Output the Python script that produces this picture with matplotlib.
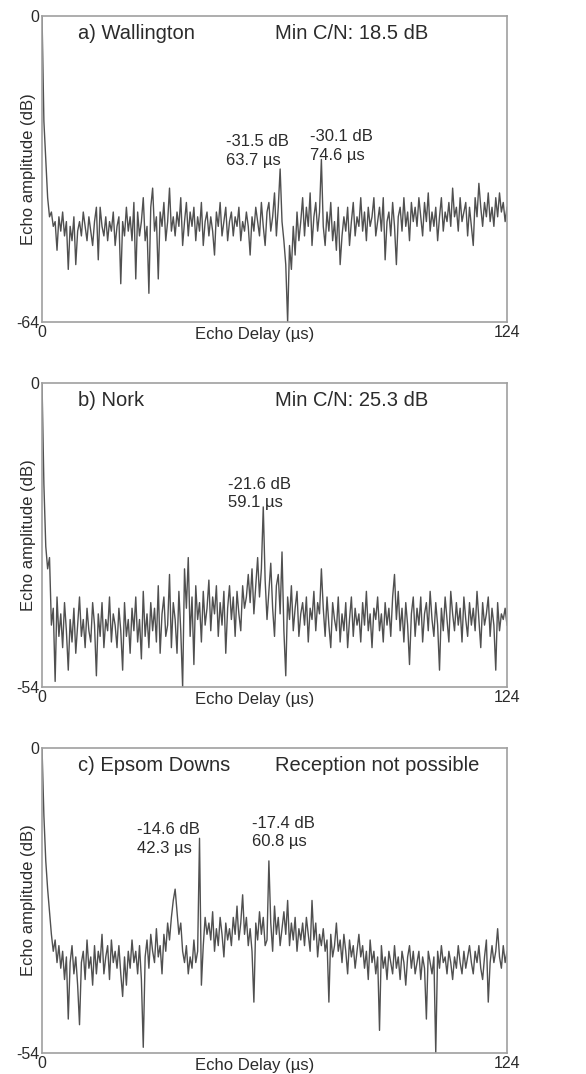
import matplotlib
matplotlib.use("Agg")
import matplotlib.pyplot as plt
import numpy as np

plt.rcParams["font.family"] = ["Liberation Sans", "DejaVu Sans"]
plt.rcParams["axes.unicode_minus"] = False

# echo delay sampled every 0.5 us, 0..124 us
step_us = 0.5
max_delay = 124

# a) Wallington, echo amplitude (dB)
wallington = [
    0, -22, -30, -38, -42, -41, -44, -43, -49, -42,
    -45, -41, -46, -43, -53, -44, -47, -42, -52, -45,
    -43, -46, -41, -44, -47, -42, -45, -48, -43, -40,
    -51, -40, -44, -46, -42, -47, -43, -45, -41, -48,
    -44, -42, -56, -43, -46, -40, -45, -42, -47, -39,
    -55, -41, -46, -43, -38, -47, -44, -58, -40, -36,
    -45, -42, -55, -41, -44, -39, -47, -43, -36, -45,
    -42, -46, -41, -44, -38, -48, -43, -39, -46, -41,
    -44, -40, -47, -42, -45, -39, -48, -43, -41, -46,
    -42, -45, -50, -41, -44, -39, -46, -43, -40, -47,
    -43, -41, -46, -42, -44, -40, -47, -43, -45, -41,
    -44, -50, -42, -45, -40, -43, -46, -39, -44, -48,
    -41, -39, -45, -42, -37, -46, -40, -32, -43, -47,
    -52, -64, -48, -53, -44, -50, -41, -47, -43, -38,
    -46, -40, -44, -37, -48, -42, -39, -45, -41, -30,
    -44, -48, -41, -45, -39, -47, -43, -49, -40, -52,
    -46, -42, -45, -40, -48, -43, -39, -46, -42, -44,
    -38, -45, -41, -47, -40, -44, -42, -38, -46, -43,
    -40, -45, -38, -51, -43, -41, -46, -39, -44, -52,
    -42, -40, -45, -38, -44, -41, -47, -39, -43, -40,
    -44, -38, -42, -46, -39, -43, -37, -45, -41, -44,
    -40, -47, -42, -38, -45, -41, -43, -39, -44, -36,
    -42, -40, -45, -38, -43, -41, -39, -46, -40, -44,
    -48, -38, -42, -35, -40, -44, -39, -42, -37, -43,
    -40, -44, -38, -42, -37, -41, -39, -43, -40,
]

# b) Nork
nork = [
    0, -18, -29, -33, -31, -43, -40, -53, -38, -45,
    -41, -47, -39, -44, -51, -42, -46, -40, -48, -43,
    -38, -45, -42, -47, -40, -44, -46, -39, -43, -52,
    -41, -45, -39, -47, -42, -44, -38, -46, -41, -43,
    -47, -40, -44, -51, -39, -45, -42, -48, -40, -44,
    -38, -46, -42, -49, -37, -45, -41, -47, -39, -44,
    -40, -46, -36, -48, -41, -38, -45, -43, -34, -47,
    -39, -42, -48, -37, -44, -54, -33, -40, -31, -45,
    -38, -50, -36, -42, -39, -46, -37, -43, -40, -35,
    -44, -38, -41, -36, -45, -39, -43, -37, -48, -40,
    -36, -42, -38, -45, -37, -41, -44, -36, -40, -38,
    -34, -39, -33, -41, -36, -31, -38, -33, -22, -35,
    -42, -37, -32, -40, -45, -36, -34, -41, -30, -44,
    -52, -38, -42, -36, -44, -40, -37, -45, -41, -39,
    -43, -38, -46, -40, -42, -37, -44, -39, -41, -33,
    -40, -45, -38, -43, -47, -39, -42, -44, -38, -46,
    -41, -44, -39, -47, -42, -38, -45, -40, -43, -41,
    -46, -39, -43, -37, -44, -41, -47, -40, -42, -38,
    -44, -41, -46, -39, -43, -40, -45, -38, -34, -42,
    -37, -44, -40, -46, -39, -43, -50, -41, -38, -45,
    -40, -43, -38, -46, -41, -39, -44, -37, -42, -45,
    -39, -43, -51, -40, -44, -38, -42, -46, -37, -41,
    -44, -39, -43, -40, -46, -38, -42, -45, -39, -43,
    -40, -44, -37, -42, -47, -39, -43, -41, -38, -45,
    -40, -43, -51, -39, -44, -41, -42, -40, -43,
]

# c) Epsom Downs
epsom = [
    0, -12, -20, -25, -29, -33, -36, -34, -38, -35,
    -39, -36, -41, -37, -48, -38, -35, -40, -37, -42,
    -49, -38, -36, -41, -34, -39, -37, -42, -35, -40,
    -36, -38, -33, -40, -37, -35, -41, -34, -38, -36,
    -39, -35, -40, -44, -37, -42, -36, -39, -34, -38,
    -36, -40, -35, -41, -53, -37, -34, -39, -33, -36,
    -38, -32, -37, -35, -40, -33, -36, -31, -34, -30,
    -27, -25, -29, -33, -31, -36, -38, -35, -40, -37,
    -39, -34, -38, -36, -16, -42, -35, -30, -33, -31,
    -34, -29, -36, -32, -35, -30, -33, -37, -31, -34,
    -32, -35, -30, -33, -28, -34, -31, -26, -33, -30,
    -35, -32, -36, -45, -31, -34, -29, -33, -30, -35,
    -34, -20, -31, -36, -28, -33, -30, -35, -32, -29,
    -33, -27, -35, -31, -34, -30, -36, -32, -34, -31,
    -35, -30, -33, -36, -27, -34, -31, -37, -33, -35,
    -32, -36, -34, -45, -33, -37, -35, -31, -36, -34,
    -38, -33, -36, -40, -34, -37, -35, -39, -36, -33,
    -37, -35, -39, -36, -41, -34, -38, -36, -40, -37,
    -50, -35, -39, -37, -41, -36, -38, -40, -35, -39,
    -37, -41, -36, -38, -42, -37, -35, -39, -36, -40,
    -38, -36, -41, -37, -39, -48, -36, -38, -40, -37,
    -54, -36, -39, -35, -38, -37, -40, -36, -38, -41,
    -37, -39, -35, -38, -40, -36, -39, -37, -35, -38,
    -40, -36, -38, -35, -39, -41, -37, -34, -45, -38,
    -35, -38, -36, -32, -37, -39, -35, -38, -36,
]

panel_names = ["a) Wallington", "b) Nork", "c) Epsom Downs"]
panel_notes = ["Min C/N: 18.5 dB", "Min C/N: 25.3 dB", "Reception not possible"]
y_min = [-64, -54, -54]
traces = [wallington, nork, epsom]

# labelled echoes: (text x in us, text y in dB, label)
echo_labels = [
    [(49.1, -28.2, "-31.5 dB\n63.7 µs"), (71.5, -27.2, "-30.1 dB\n74.6 µs")],
    [(49.6, -19.6, "-21.6 dB\n59.1 µs")],
    [(25.3, -16.1, "-14.6 dB\n42.3 µs"), (56.0, -15.0, "-17.4 dB\n60.8 µs")],
]

# axes boxes in figure fraction
boxes = [
    [0.0717, 0.7002, 0.7935, 0.2849],
    [0.0717, 0.3603, 0.7935, 0.2830],
    [0.0717, 0.0196, 0.7935, 0.2840],
]

fig = plt.figure(figsize=(5.86, 10.74), dpi=100)
text_col = "#2b2b2b"

for k in range(3):
    ax = fig.add_axes(boxes[k])
    y = np.array(traces[k])
    x = np.arange(len(y)) * step_us
    ax.plot(x, y, color="#505050", lw=1.0)

    ax.set_xlim(0, max_delay)
    ax.set_ylim(y_min[k], 0)
    ax.set_xticks([0, max_delay])
    ax.set_yticks([y_min[k], 0])
    ax.tick_params(length=0, labelsize=11.5, colors=text_col, pad=2)
    for s in ax.spines.values():
        s.set_color("#a0a0a0")
        s.set_linewidth(1.2)

    ax.set_xlabel("Echo Delay (µs)", fontsize=12, color=text_col)
    ax.xaxis.set_label_coords(0.458, -0.015)
    ax.set_ylabel("Echo amplitude (dB)", fontsize=12, color=text_col)
    ax.yaxis.set_label_coords(-0.012, 0.5)

    ax.text(0.077, 0.942, panel_names[k], transform=ax.transAxes,
            fontsize=14.5, color=text_col, va="center", ha="left")
    ax.text(0.50, 0.942, panel_notes[k], transform=ax.transAxes,
            fontsize=14.5, color=text_col, va="center", ha="left")

    for tx, ty, lab in echo_labels[k]:
        ax.text(tx, ty, lab, fontsize=12, color=text_col,
                ha="left", va="center", linespacing=1.3)

fig.savefig("out.png", dpi=100)
